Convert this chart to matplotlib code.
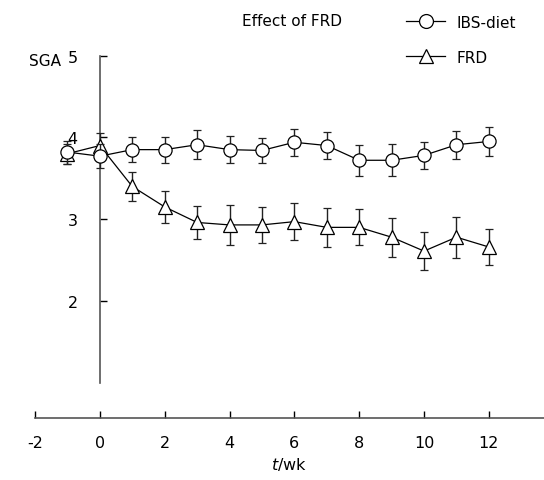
import matplotlib.pyplot as plt
from matplotlib.lines import Line2D

plt.rcParams["axes.unicode_minus"] = False

# weeks and SGA means / SEM
weeks = [-1, 0, 1, 2, 3, 4, 5, 6, 7, 8, 9, 10, 11, 12]

ibs_mean = [3.82, 3.77, 3.85, 3.85, 3.91, 3.85, 3.84, 3.94, 3.90, 3.72, 3.72, 3.78, 3.91, 3.95]
ibs_err = [0.14, 0.15, 0.15, 0.16, 0.18, 0.165, 0.15, 0.165, 0.17, 0.19, 0.195, 0.165, 0.17, 0.18]

frd_mean = [3.80, 3.90, 3.40, 3.15, 2.96, 2.93, 2.93, 2.97, 2.90, 2.90, 2.78, 2.61, 2.78, 2.66]
frd_err = [0.12, 0.15, 0.18, 0.20, 0.20, 0.24, 0.22, 0.23, 0.24, 0.22, 0.24, 0.23, 0.25, 0.22]

x_ticks = [-2, 0, 2, 4, 6, 8, 10, 12]
y_ticks = [2, 3, 4, 5]

fig = plt.figure(figsize=(5.44, 4.81), dpi=100)
ax = fig.add_axes([35 / 544, 62 / 481, 509 / 544, 387 / 481])

style = dict(color="black", lw=0.9, ms=9.5, mfc="white", mec="black", mew=0.9,
             ecolor="#222222", elinewidth=1.0, capsize=3, capthick=1.0)
ax.errorbar(weeks, frd_mean, yerr=frd_err, marker="^", zorder=3, **style)
ax.errorbar(weeks, ibs_mean, yerr=ibs_err, marker="o", zorder=4, **style)

ax.set_xlim(-2, 13.7)
ax.set_ylim(0.57, 5.3)

for s in ["top", "right"]:
    ax.spines[s].set_visible(False)
ax.spines["left"].set_position(("data", 0))
ax.spines["left"].set_bounds(1, 5)
ax.spines["bottom"].set_bounds(-2, 13.7)
for s in ["left", "bottom"]:
    ax.spines[s].set_color("#555555")
    ax.spines[s].set_linewidth(1.2)

ax.set_xticks(x_ticks)
ax.set_yticks(y_ticks)
ax.tick_params(axis="both", direction="in", length=5, width=1.0,
               colors="black", labelsize=11.5)
ax.tick_params(axis="y", pad=16)
ax.tick_params(axis="x", pad=12)

ax.set_xlabel("$t$/wk", fontsize=11.5, labelpad=4)

fig.text(45 / 544, 1 - 62 / 481, "SGA", fontsize=11, ha="center", va="center")
fig.text(292 / 544, 1 - 22 / 481, "Effect of FRD", fontsize=11, ha="center", va="center")

handles = [
    Line2D([], [], color="black", lw=0.9, marker="o", ms=10, mfc="white", mec="black", mew=0.9),
    Line2D([], [], color="black", lw=0.9, marker="^", ms=10, mfc="white", mec="black", mew=0.9),
]
fig.legend(handles, ["IBS-diet", "FRD"], loc="upper left",
           bbox_to_anchor=(392 / 544, 1 - 2 / 481), frameon=False, fontsize=11,
           handlelength=2.6, labelspacing=1.3, handletextpad=0.7)

fig.savefig("out.png", dpi=100)
